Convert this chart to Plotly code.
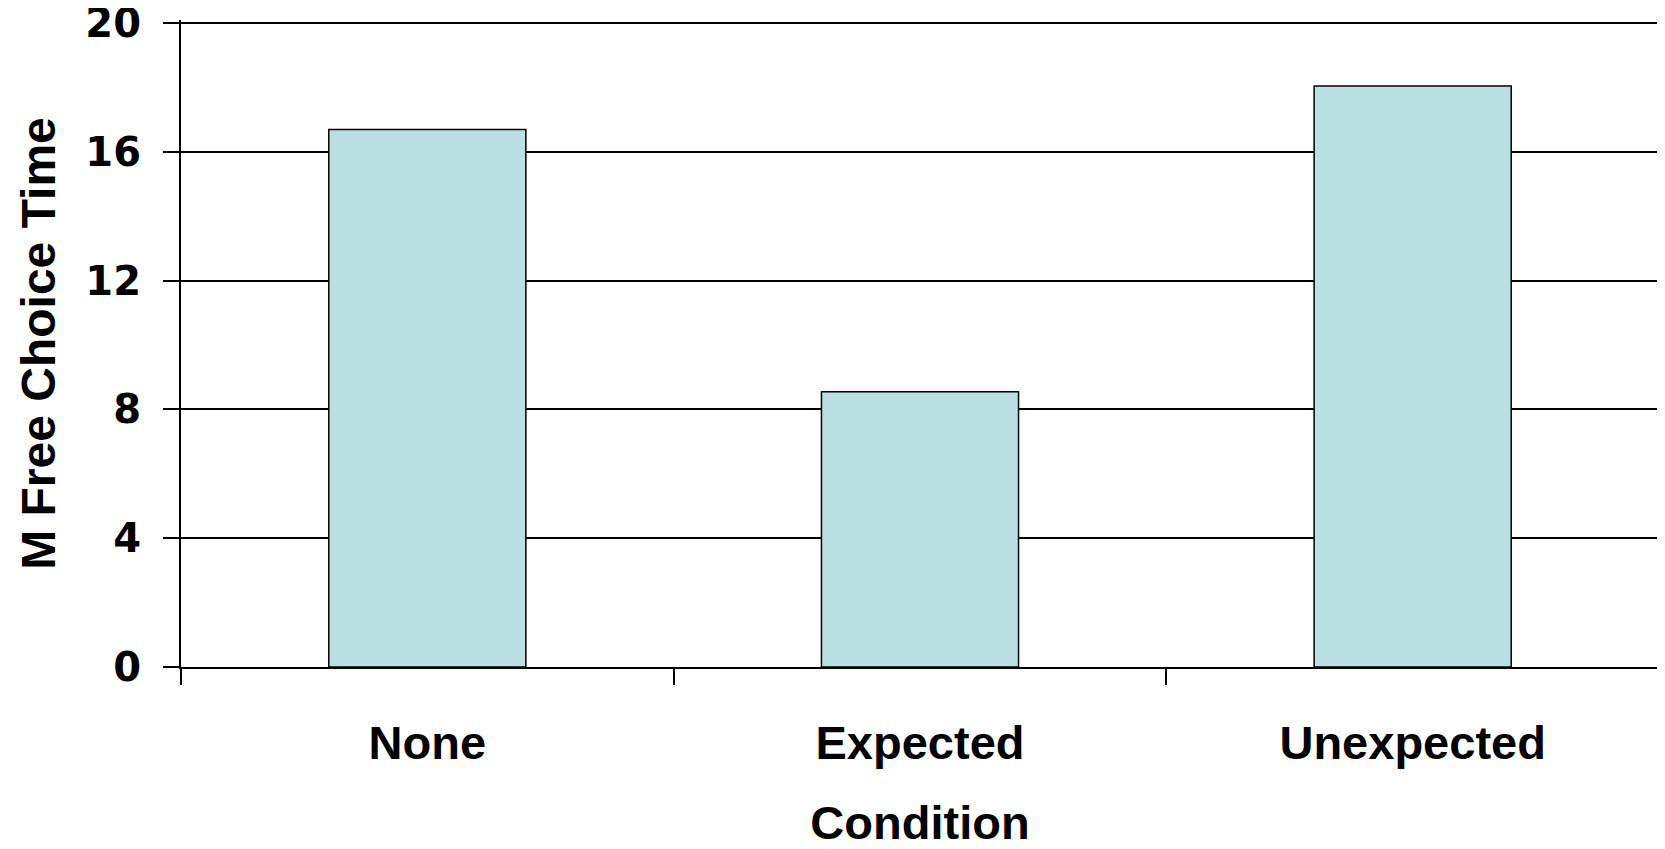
import plotly.graph_objects as go

categories = ["None", "Expected", "Unexpected"]
values = [16.7, 8.55, 18.05]
y_ticks = [0, 4, 8, 12, 16, 20]

FONT = "Liberation Sans, Arial, sans-serif"

fig = go.Figure()
fig.add_trace(go.Bar(
    x=categories,
    y=values,
    marker=dict(color="#BBE0E3", line=dict(color="black", width=1.5)),
    width=0.4,
))

fig.update_layout(
    width=1657,
    height=841,
    margin=dict(l=172.5, r=6, t=12, b=182),
    plot_bgcolor="white",
    paper_bgcolor="white",
    showlegend=False,
    font=dict(family=FONT, size=47, color="black", weight="bold"),
)

fig.update_xaxes(
    type="category",
    automargin=False,
    showline=True, linecolor="black", linewidth=2,
    ticks="outside", tickson="boundaries", ticklen=16, tickwidth=2, tickcolor="black",
    showgrid=False,
    tickfont=dict(family=FONT, size=47, color="black", weight="bold"),
    ticklabelstandoff=34,
    title=dict(text="Condition", font=dict(family=FONT, size=47, color="black", weight="bold"), standoff=47),
)

fig.update_yaxes(
    range=[0, 20.1],
    automargin=False,
    tickvals=y_ticks,
    ticktext=[str(v) for v in y_ticks],
    showline=True, linecolor="black", linewidth=2,
    ticks="outside", ticklen=16, tickwidth=2, tickcolor="black",
    showgrid=True, gridcolor="black", gridwidth=1.5,
    zeroline=False,
    tickfont=dict(family="DejaVu Sans, sans-serif", size=40, color="black", weight="bold"),
    ticklabelstandoff=14,
    ticklabeloverflow="allow",
    title=dict(text="M Free Choice Time", font=dict(family=FONT, size=48, color="black", weight="bold"), standoff=15),
)

fig.write_html("out.html")
